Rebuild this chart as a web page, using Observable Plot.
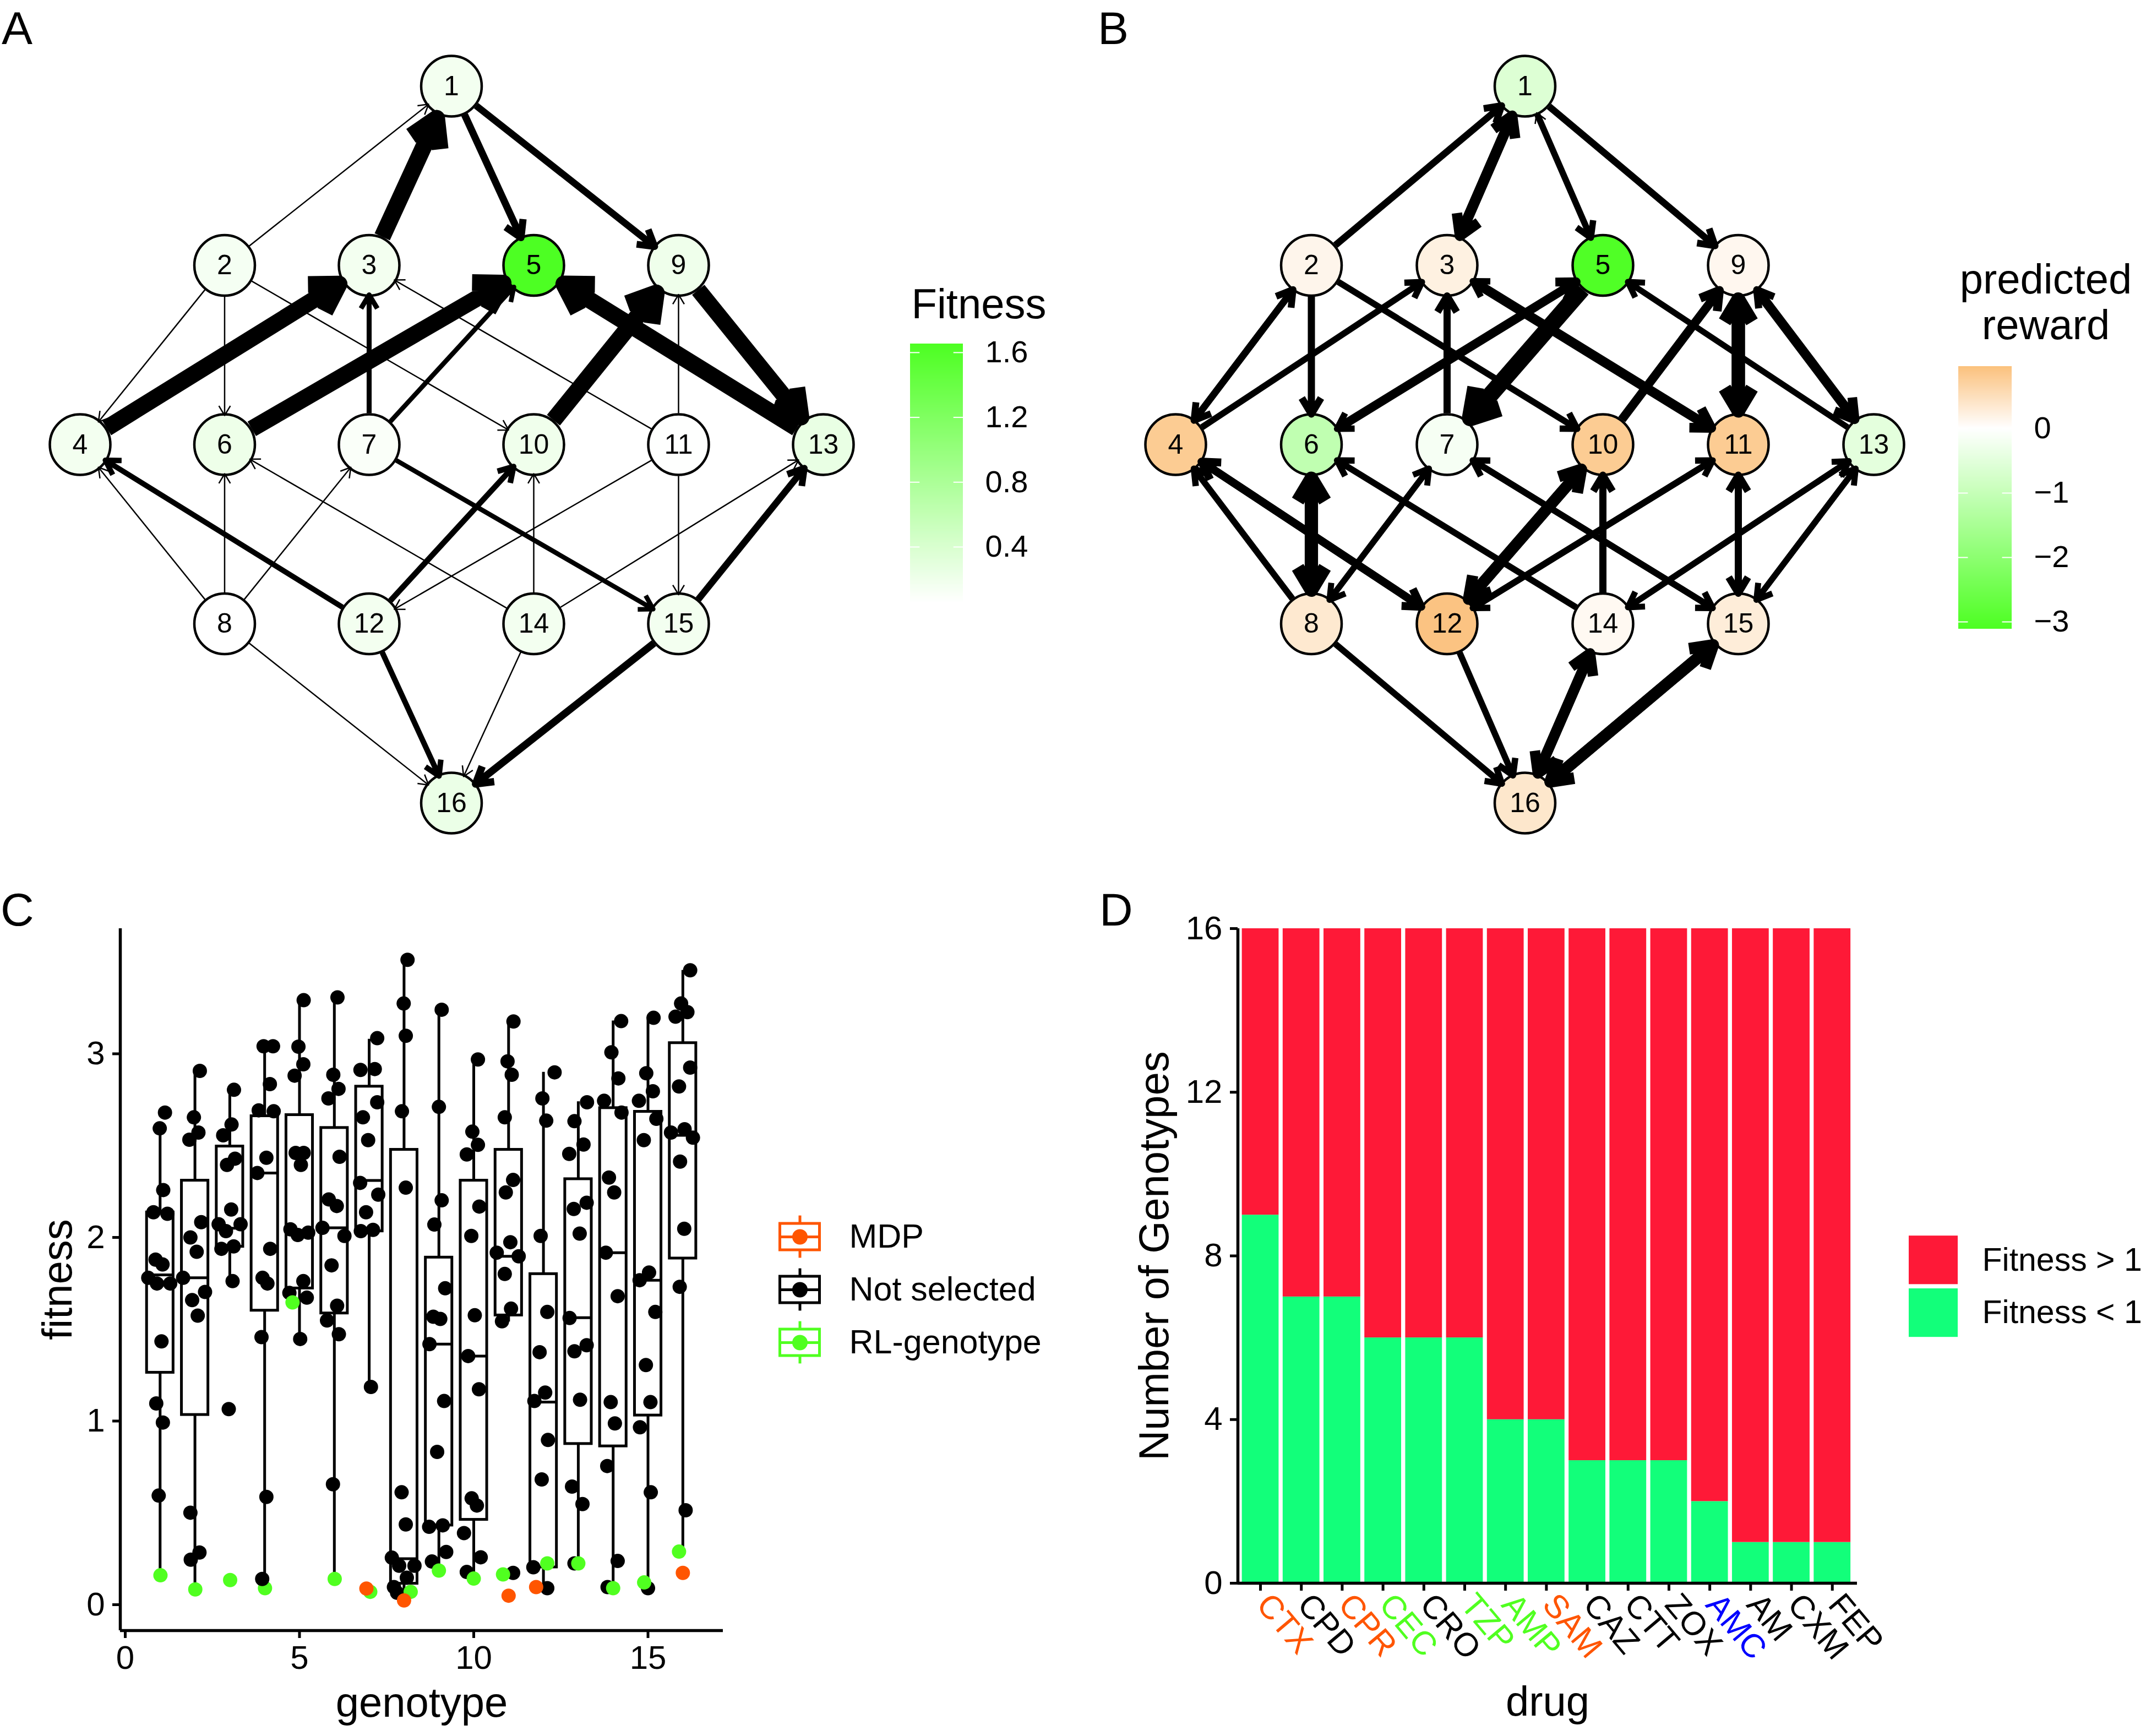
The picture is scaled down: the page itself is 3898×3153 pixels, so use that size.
<!DOCTYPE html>
<html><head><meta charset="utf-8">
<script src="https://cdn.jsdelivr.net/npm/d3@7"></script>
<script src="https://cdn.jsdelivr.net/npm/@observablehq/plot@0.6"></script>
<style>
html,body{margin:0;padding:0;background:#fff;}
#fig{position:relative;width:3898px;height:3153px;background:#fff;overflow:hidden;font-family:'Liberation Sans',Arial,Helvetica,sans-serif;}
.tag{position:absolute;font-size:84px;line-height:84px;color:#000;}
</style></head><body><div id="fig">
<div class="tag" style="left:3px;top:9px">A</div>
<div class="tag" style="left:1994px;top:9px">B</div>
<div class="tag" style="left:1px;top:1610px">C</div>
<div class="tag" style="left:1997px;top:1610px">D</div>
</div>
<script>
// ---------------- DATA ----------------
// Genotype hypercube: genotypes in each mutation layer (left to right)
const layers = [[1],[2,3,5,9],[4,6,7,10,11,13],[8,12,14,15],[16]];

// Panel A: fitness of each genotype 1..16 and transition edges
const aFitness = [0.16,0.14,0.16,0.16,1.65,0.21,0.10,0.05,0.20,0.19,0.06,0.16,0.25,0.16,0.16,0.23];
const aFrom   = [2,3,1,1,2,2,2,4,7,11,6,7,13,10,11,9,8,12,8,14,8,7,12,14,11,11,14,15,8,12,14,15];
const aTo     = [1,1,5,9,4,6,10,3,3,3,5,5,5,9,9,13,4,4,6,6,7,15,10,10,12,15,13,13,16,16,16,16];
const aWeight = [0,0.93,0.35,0.33,0,0,0,0.93,0.22,0,0.93,0.2,0.93,0.93,0,0.88,0,0.24,0,0,0,0.2,0.26,0,0,0,0,0.32,0,0.25,0,0.36];
const fitnessTicks = [0.4,0.8,1.2,1.6];

// Panel B: predicted reward of each genotype 1..16 and transition edges
const bReward = [-0.6,0.15,0.22,0.8,-3.05,-1.1,-0.15,0.35,0.12,0.8,0.8,0.93,-0.48,0.1,0.28,0.38];
const bFrom   = [2,1,3,1,5,1,2,2,4,2,4,6,5,5,7,3,11,10,9,11,9,13,13,6,8,8,4,12,7,8,14,7,15,10,12,11,12,14,11,15,13,14,13,15,8,12,14,16,15,16];
const bTo     = [1,3,1,5,1,9,6,4,2,10,3,5,6,7,3,11,3,9,11,9,13,9,5,8,6,4,12,4,8,7,6,15,7,12,10,12,11,10,15,11,14,13,15,13,16,16,16,14,16,15];
const bWeight = [.33,.55,.55,.3,0,.33,.35,.33,.33,.3,.3,.45,.3,.93,.35,.5,.3,.45,.72,.72,.5,.35,.28,.72,.72,.3,.4,.4,.28,.28,.3,.3,.3,.6,.6,.3,.3,.35,.35,.35,.28,.28,.28,.28,.3,.3,.55,.55,.62,.62];
const rewardTicks = [0,-1,-2,-3];

// Panel C: box statistics per genotype 1..16
const boxQ1  = [1.264,1.034,1.95,1.602,1.723,1.587,2.034,0.115,0.432,0.463,1.576,0.204,0.876,0.863,1.031,1.886];
const boxMed = [1.796,1.78,2.05,2.351,2.026,2.052,2.31,0.25,1.419,1.354,1.897,1.103,1.563,1.917,1.767,2.556];
const boxQ3  = [2.137,2.31,2.496,2.661,2.667,2.597,2.822,2.478,1.891,2.31,2.478,1.801,2.318,2.705,2.685,3.059];
const boxLow = [0.17,0.12,1.775,0.14,1.45,0.15,1.19,0.07,0.18,0.17,1.54,0.10,0.225,0.11,0.10,0.29];
const boxHigh= [2.60,2.91,2.81,3.04,3.29,3.31,3.08,3.51,3.24,2.97,3.17,2.90,2.74,3.18,3.20,3.455];
// Panel C: jittered points [genotype position, fitness]
const notSelected = [
 [1.14,2.68],[0.99,2.594],[1.09,2.258],[0.81,2.137],[1.21,2.129],[0.87,1.879],[1.07,1.853],[0.66,1.78],[0.91,1.749],[1.29,1.749],[1.04,1.434],[0.89,1.096],[1.08,0.992],[0.96,0.594],
 [2.14,2.907],[1.97,2.654],[2.1,2.571],[1.84,2.532],[2.18,2.083],[1.87,2.0],[2.05,1.922],[1.66,1.78],[2.29,1.703],[1.92,1.659],[2.08,1.574],[1.87,0.501],[2.13,0.284],[1.88,0.245],
 [3.12,2.804],[3.05,2.615],[2.81,2.556],[2.92,2.395],[3.15,2.429],[3.04,2.152],[2.68,2.072],[2.89,2.034],[3.31,2.072],[2.76,1.938],[3.11,1.951],[3.08,1.762],[2.97,1.065],
 [3.97,3.041],[4.24,3.041],[4.15,2.835],[3.83,2.692],[4.26,2.687],[4.05,2.434],[3.79,2.351],[4.16,1.938],[3.94,1.78],[4.08,1.749],[3.91,1.457],[4.05,0.587],
 [5.12,3.292],[4.97,3.039],[5.11,2.943],[4.86,2.881],[5.12,2.46],[5.04,2.395],[4.89,2.46],[4.74,2.044],[4.95,2.013],[5.25,2.026],[5.11,1.762],[4.71,1.698],[5.21,1.672],[5.02,1.447],
 [6.09,3.307],[5.97,2.886],[6.12,2.809],[5.83,2.757],[6.15,2.439],[5.84,2.207],[6.07,2.171],[5.66,2.052],[6.29,2.008],[5.92,1.848],[6.08,1.628],[5.79,1.548],[6.13,1.473],[5.96,0.656],
 [7.23,3.085],[6.75,2.912],[7.16,2.917],[7.23,2.736],[6.82,2.654],[6.97,2.53],[6.74,2.297],[7.26,2.233],[6.91,2.137],[6.76,2.034],[7.11,2.041],[7.05,1.186],
 [8.1,3.512],[7.99,3.274],[8.05,3.098],[7.94,2.687],[8.05,2.271],[7.93,0.612],[8.05,0.437],[7.65,0.256],[7.86,0.212],[8.3,0.212],[8.08,0.147],[7.71,0.096],[7.8,0.065],
 [9.08,3.24],[9.0,2.711],[9.08,2.202],[8.87,2.07],[9.18,1.723],[8.84,1.568],[9.04,1.556],[8.73,1.419],[9.15,1.109],[8.95,0.832],[8.72,0.424],[9.11,0.432],[9.21,0.287],[8.8,0.235],
 [10.12,2.969],[9.96,2.576],[10.12,2.504],[9.8,2.452],[10.16,2.168],[9.93,2.008],[10.03,1.576],[9.84,1.354],[10.15,1.173],[9.94,0.579],[10.09,0.54],[9.72,0.39],[10.2,0.258],[9.8,0.178],
 [11.14,3.176],[10.97,2.959],[11.09,2.886],[10.89,2.654],[11.13,2.313],[10.92,2.245],[11.05,1.974],[10.66,1.917],[11.29,1.897],[10.89,1.801],[11.07,1.612],[10.81,1.543],[11.13,0.173],
 [12.32,2.899],[11.97,2.757],[12.08,2.636],[11.92,2.008],[12.11,1.594],[11.89,1.375],[11.74,1.109],[12.05,1.155],[12.13,0.897],[11.95,0.682],[11.71,0.204],[12.11,0.09],
 [13.25,2.736],[12.89,2.633],[13.15,2.506],[12.74,2.455],[13.24,2.189],[12.87,2.155],[13.04,2.021],[12.75,1.561],[13.24,1.413],[12.89,1.38],[13.05,1.116],[12.82,0.643],[13.12,0.548],[12.89,0.225],
 [14.23,3.178],[13.95,3.008],[14.15,2.866],[13.74,2.744],[14.24,2.68],[13.88,2.326],[14.03,2.245],[13.79,1.917],[14.13,1.68],[13.93,1.103],[14.05,0.987],[13.83,0.755],[14.13,0.238],[13.84,0.096],
 [15.16,3.196],[14.95,2.894],[15.14,2.796],[14.74,2.744],[15.24,2.646],[14.88,2.53],[15.03,1.809],[14.76,1.767],[15.21,1.594],[14.94,1.305],[15.07,1.103],[14.77,0.966],[15.08,0.612],[15.0,0.09],
 [16.21,3.455],[15.95,3.274],[16.13,3.227],[15.79,3.202],[16.21,2.925],[15.89,2.822],[15.66,2.571],[16.05,2.589],[16.29,2.543],[15.92,2.413],[16.04,2.047],[15.91,1.731],[16.08,0.514]
];
const rlGenotype = [[1.01,0.16],[2.01,0.083],[3.01,0.134],[4.01,0.09],[4.8,1.646],[6.01,0.14],[7.03,0.07],[8.19,0.07],[9.0,0.186],[10.0,0.142],[10.84,0.165],[12.11,0.225],[13.0,0.225],[14.0,0.09],[14.89,0.121],[15.89,0.289]];
const mdp = [[6.92,0.088],[8.0,0.023],[11.0,0.049],[11.79,0.096],[16.0,0.173]];
const blackOverGreen = [[3.93,0.14]];
const pointGroups = ["MDP","Not selected","RL-genotype"];

// Panel D
const drugs = ["CTX","CPD","CPR","CEC","CRO","TZP","AMP","SAM","CAZ","CTT","ZOX","AMC","AM","CXM","FEP"];
const lessThanOne    = [9,7,7,6,6,6,4,4,3,3,3,2,1,1,1];
const greaterThanOne = [7,9,9,10,10,10,12,12,13,13,13,14,15,15,15];
const drugGroup = ["MDP","none","MDP","RL","none","RL","RL","MDP","none","none","none","other","none","none","none"];
const fitnessCats = ["Fitness > 1","Fitness < 1"];

// ---------------- DRAWING ----------------
const W = 3898, H = 3153;
const STYLE = "position:absolute;left:0;top:0;background:none;overflow:visible;font-family:'Liberation Sans',Arial,Helvetica,sans-serif;";
const fig = document.getElementById("fig");
function page(o){ return Object.assign({width: W, height: H, style: STYLE}, o); }
function frame(l, t, r, b){ return {marginLeft: l, marginTop: t, marginRight: W - r, marginBottom: H - b}; }
const GREEN = "#4DFF22", ORANGE = "#FBC17D";
const aColor = {type: "linear", domain: [0.0533, 1.654], range: ["#ffffff", GREEN], interpolate: "rgb", clamp: true};
const bColor = {type: "linear", domain: [-3.111, 0, 0.966], range: [GREEN, "#ffffff", ORANGE], interpolate: "rgb", clamp: true};

const nodePos = new Map();
layers.forEach((ids, layer) => ids.forEach((id, i) => nodePos.set(id, {slot: i + (6 - ids.length) / 2, layer})));

function network(values, from, to, weight, xRange, color) {
  const nodes = d3.range(1, 17).map(id => ({id, ...nodePos.get(id), v: values[id - 1]}));
  const edges = from.map((f, i) => {
    const a = nodePos.get(f), b = nodePos.get(to[i]);
    return {x1: a.slot, y1: a.layer, x2: b.slot, y2: b.layer, sw: 2.5 + 30 * weight[i]};
  });
  // one arrow mark per edge so that each arrowhead scales with its own line width
  const arrows = edges.map(e => {
    const wing = 17 + 1.3 * e.sw;
    return Plot.arrow([e], {
      x1: "x1", y1: "y1", x2: "x2", y2: "y2", stroke: "black", strokeWidth: e.sw,
      headLength: wing * 1.5 / e.sw, headAngle: 62, insetStart: 57, insetEnd: Math.max(53, 49 + e.sw / 2),
      strokeLinecap: "butt", strokeLinejoin: "round"
    });
  });
  return Plot.plot(page({
    margin: 0,
    x: {type: "linear", domain: [0, 2, 3, 5], range: xRange, axis: null},
    y: {type: "linear", domain: [0, 4], range: [156, 1458], axis: null},
    color,
    marks: [
      Plot.dot(nodes, {x: "slot", y: "layer", r: 55, fill: "v", stroke: "black", strokeWidth: 4.5}),
      ...arrows,
      Plot.text(nodes, {x: "slot", y: "layer", text: d => String(d.id), fontSize: 50, fill: "black"})
    ]
  }));
}

function colorbar(color, lo, hi, box, ticks, fmt, titleMark) {
  const N = 240, step = (hi - lo) / N;
  const slices = d3.range(N).map(i => lo + i * step);
  return Plot.plot(page({
    ...frame(box[0], box[1], box[2], box[3]),
    x: {domain: [0, 1], axis: null},
    y: {domain: [lo, hi], axis: null},
    color,
    marks: [
      Plot.rect(slices, {x1: 0, x2: 1, y1: d => d, y2: d => Math.min(hi, d + step * 1.6), fill: d => d + step / 2}),
      Plot.ruleY(ticks, {x1: 0, x2: 0.18, stroke: "white", strokeWidth: 2}),
      Plot.ruleY(ticks, {x1: 0.82, x2: 1, stroke: "white", strokeWidth: 2}),
      Plot.text(ticks, {x: 1, y: d => d, dx: 40, text: fmt, textAnchor: "start", lineAnchor: "middle", fontSize: 56, fill: "black"}),
      titleMark
    ]
  }));
}

// Panel A
fig.appendChild(network(aFitness, aFrom, aTo, aWeight, [145, 670, 969, 1495], aColor));
fig.appendChild(colorbar(aColor, 0.0533, 1.654, [1653, 624, 1749, 1095], fitnessTicks, d => d.toFixed(1),
  Plot.text(["Fitness"], {frameAnchor: "top-left", dx: 2, dy: -47, lineAnchor: "bottom", textAnchor: "start", text: d => d, fontSize: 76, fill: "black"})));

// Panel B
fig.appendChild(network(bReward, bFrom, bTo, bWeight, [2135, 2628, 2911, 3403], bColor));
fig.appendChild(colorbar(bColor, -3.111, 0.966, [3557, 665, 3654, 1142], rewardTicks, d => d === 0 ? "0" : "\u2212" + Math.abs(d),
  Plot.text(["predicted\nreward"], {frameAnchor: "top", dx: 110, dy: -50, lineAnchor: "bottom", lineHeight: 1.09, textAnchor: "middle", text: d => d, fontSize: 76, fill: "black"})));

// Panel C
const C_COLORS = ["#FF5500", "#000000", "#50FF20"];
const boxes = d3.range(16).map(i => ({g: i + 1, q1: boxQ1[i], med: boxMed[i], q3: boxQ3[i], lo: boxLow[i], hi: boxHigh[i]}));
const points = [
  ...notSelected.map(([x, y]) => ({x, y, group: "Not selected"})),
  ...rlGenotype.map(([x, y]) => ({x, y, group: "RL-genotype"})),
  ...mdp.map(([x, y]) => ({x, y, group: "MDP"})),
  ...blackOverGreen.map(([x, y]) => ({x, y, group: "Not selected"}))
];
const cx0 = -0.142, cx1 = 17.156, cy0 = -0.141, cy1 = 3.682;
fig.appendChild(Plot.plot(page({
  ...frame(218, 1686, 1313, 2961),
  x: {domain: [cx0, cx1]},
  y: {domain: [cy0, cy1]},
  color: {domain: pointGroups, range: C_COLORS},
  marks: [
    Plot.ruleX(boxes, {x: "g", y1: "lo", y2: "hi", stroke: "black", strokeWidth: 5}),
    Plot.rect(boxes, {x1: d => d.g - 0.38, x2: d => d.g + 0.38, y1: "q1", y2: "q3", fill: "white", stroke: "black", strokeWidth: 5}),
    Plot.ruleY(boxes, {y: "med", x1: d => d.g - 0.38, x2: d => d.g + 0.38, stroke: "black", strokeWidth: 5}),
    Plot.dot(points, {x: "x", y: "y", r: 13, fill: "group"}),
    Plot.ruleX([cx0], {stroke: "black", strokeWidth: 5.5}),
    Plot.ruleY([cy0], {stroke: "black", strokeWidth: 5.5}),
    Plot.axisX({ticks: [0, 5, 10, 15], tickFormat: d => String(d), tickSize: 14, tickPadding: 13, fontSize: 60, strokeWidth: 5, label: null}),
    Plot.axisY({ticks: [0, 1, 2, 3], tickFormat: d => String(d), tickSize: 14, tickPadding: 14, fontSize: 60, strokeWidth: 5, label: null}),
    Plot.text(["genotype"], {frameAnchor: "bottom", dy: 132, textAnchor: "middle", lineAnchor: "middle", text: d => d, fontSize: 76, fill: "black"}),
    Plot.text(["fitness"], {frameAnchor: "left", dx: -113, rotate: -90, textAnchor: "middle", lineAnchor: "middle", text: d => d, fontSize: 76, fill: "black"})
  ]
})));
// Panel C legend
const gi = d3.range(pointGroups.length);
fig.appendChild(Plot.plot(page({
  ...frame(1416.5, 2198, 1488.5, 2486),
  x: {domain: [0, 1], axis: null},
  y: {domain: [-0.5, 2.5], reverse: true, axis: null},
  color: {domain: pointGroups, range: C_COLORS},
  marks: [
    Plot.ruleX(gi, {x: 0.5, y1: i => i - 0.4, y2: i => i + 0.4, stroke: i => pointGroups[i], strokeWidth: 5}),
    Plot.rect(gi, {x1: 0, x2: 1, y1: i => i - 0.25, y2: i => i + 0.25, fill: "white", stroke: i => pointGroups[i], strokeWidth: 5}),
    Plot.ruleY(gi, {y: i => i, x1: 0, x2: 1, stroke: i => pointGroups[i], strokeWidth: 5}),
    Plot.dot(gi, {x: 0.5, y: i => i, r: 14, fill: i => pointGroups[i]}),
    Plot.text(gi, {x: 1, y: i => i, dx: 53.5, text: i => pointGroups[i], textAnchor: "start", lineAnchor: "middle", fontSize: 61, fill: "black"})
  ]
})));

// Panel D
const D_COLORS = ["#FE1937", "#12FF7A"];
const idx = d3.range(drugs.length);
const dx0 = -0.553, dx1 = 14.61;
const labelColors = {MDP: "#FF5500", RL: "#50FF20", other: "#0000FF", none: "#000000"};
fig.appendChild(Plot.plot(page({
  ...frame(2248, 1686, 3373, 2875),
  x: {domain: [dx0, dx1]},
  y: {domain: [0, 16]},
  color: {domain: fitnessCats, range: D_COLORS},
  marks: [
    Plot.rect(idx, {x1: i => i - 0.45, x2: i => i + 0.45, y1: 0, y2: i => lessThanOne[i], fill: () => "Fitness < 1"}),
    Plot.rect(idx, {x1: i => i - 0.45, x2: i => i + 0.45, y1: i => lessThanOne[i], y2: i => lessThanOne[i] + greaterThanOne[i], fill: () => "Fitness > 1"}),
    Plot.ruleX([dx0], {stroke: "black", strokeWidth: 5.5}),
    Plot.ruleY([0], {stroke: "black", strokeWidth: 5.5}),
    Plot.axisY({ticks: [0, 4, 8, 12, 16], tickFormat: d => String(d), tickSize: 14, tickPadding: 14, fontSize: 60, strokeWidth: 5, label: null}),
    Plot.axisX({ticks: idx, tickSize: 14, tickFormat: () => "", strokeWidth: 5, label: null}),
    ...Object.keys(labelColors).map(k => Plot.text(idx.filter(i => drugGroup[i] === k), {
      x: i => i, frameAnchor: "bottom", dx: 5, dy: 28, rotate: 50, textAnchor: "start", lineAnchor: "middle",
      text: i => drugs[i], fontSize: 60, fill: labelColors[k]
    })),
    Plot.text(["drug"], {frameAnchor: "bottom", dy: 216, textAnchor: "middle", lineAnchor: "middle", text: d => d, fontSize: 76, fill: "black"}),
    Plot.text(["Number of Genotypes"], {frameAnchor: "left", dx: -151, rotate: -90, textAnchor: "middle", lineAnchor: "middle", text: d => d, fontSize: 76, fill: "black"})
  ]
})));
// Panel D legend
const fi = d3.range(fitnessCats.length);
fig.appendChild(Plot.plot(page({
  ...frame(3467, 2240.3, 3556, 2432),
  x: {domain: [0, 1], axis: null},
  y: {domain: [-0.5, 1.5], reverse: true, axis: null},
  color: {domain: fitnessCats, range: D_COLORS},
  marks: [
    Plot.rect(fi, {x1: 0, x2: 1, y1: i => i - 0.46, y2: i => i + 0.46, fill: i => fitnessCats[i]}),
    Plot.text(fi, {x: 1, y: i => i, dx: 44, text: i => fitnessCats[i], textAnchor: "start", lineAnchor: "middle", fontSize: 59, fill: "black"})
  ]
})));
</script></body></html>
